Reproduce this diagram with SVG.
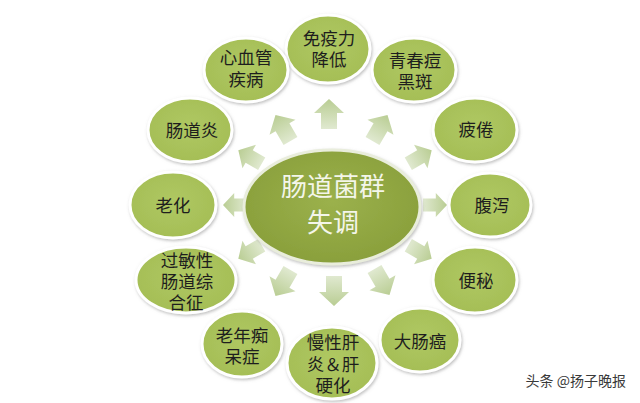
<svg xmlns="http://www.w3.org/2000/svg" width="640" height="403" viewBox="0 0 640 403">
<style>
.node{fill:url(#ng);stroke:#ffffff;stroke-width:3;filter:url(#sh)}
.t{font-family:"Noto Sans CJK SC","Noto Sans",sans-serif;font-size:17.5px;fill:#1e1e1e;text-anchor:middle}
.ct{font-family:"Noto Sans CJK SC","Noto Sans",sans-serif;font-size:26px;fill:#f4f6ea;text-anchor:middle}
.wm{font-family:"Noto Sans CJK SC","Noto Sans",sans-serif;font-size:14px;fill:#3a3a3a;stroke:#ffffff;stroke-width:0.6;paint-order:stroke;text-anchor:end}
.arr{fill:url(#ag)}
</style>
<defs>
<filter id="sh" x="-20%" y="-20%" width="140%" height="140%">
<feDropShadow dx="1" dy="1.5" stdDeviation="1.5" flood-color="#8a8a8a" flood-opacity="0.55"/>
</filter>
<radialGradient id="ng" cx="50%" cy="45%" r="60%">
<stop offset="0" stop-color="#afc862"/>
<stop offset="1" stop-color="#a4bd55"/>
</radialGradient>
<radialGradient id="cg" cx="50%" cy="45%" r="60%">
<stop offset="0" stop-color="#9bb14c"/>
<stop offset="1" stop-color="#889e3a"/>
</radialGradient>
<linearGradient id="ag" x1="0" y1="0" x2="1" y2="0">
<stop offset="0" stop-color="#e0e9d0"/>
<stop offset="1" stop-color="#b9cd93"/>
</linearGradient>
<path id="arrow" class="arr" d="M-15,-8 L1,-8 L1,-15 L15,0 L1,15 L1,8 L-15,8 Z"/>
</defs>
<rect width="640" height="403" fill="#ffffff"/>
<g id="connectors">
<use href="#arrow" transform="translate(329,114) rotate(-90)"/>
<use href="#arrow" transform="translate(380,128) rotate(-60)"/>
<use href="#arrow" transform="translate(420,157) rotate(-30) scale(0.9)"/>
<use href="#arrow" transform="translate(435,205) scale(0.8)"/>
<use href="#arrow" transform="translate(420,252) rotate(30) scale(0.9)"/>
<use href="#arrow" transform="translate(382,282) rotate(60)"/>
<use href="#arrow" transform="translate(334,291) rotate(90)"/>
<use href="#arrow" transform="translate(283,283) rotate(120)"/>
<use href="#arrow" transform="translate(250,252) rotate(150) scale(0.9)"/>
<use href="#arrow" transform="translate(235,205) rotate(180) scale(0.8)"/>
<use href="#arrow" transform="translate(250,157) rotate(-150) scale(0.9)"/>
<use href="#arrow" transform="translate(283,128) rotate(-120)"/>
</g>
<g id="center">
<ellipse cx="332" cy="207" rx="88" ry="57" fill="url(#cg)" stroke="#e9eddc" stroke-width="3" filter="url(#sh)"/>
<text class="ct" x="333" y="196">肠道菌群<tspan x="333" dy="36">失调</tspan></text>
</g>
<g id="n-immune">
<ellipse class="node" cx="328" cy="49" rx="42" ry="34"/>
<text class="t" x="329" y="45">免疫力<tspan x="329" dy="21">降低</tspan></text>
</g>
<g id="n-cardio">
<ellipse class="node" cx="246" cy="70" rx="42" ry="32"/>
<text class="t" x="246" y="64">心血管<tspan x="246" dy="22">疾病</tspan></text>
</g>
<g id="n-acne">
<ellipse class="node" cx="414" cy="70" rx="42" ry="32"/>
<text class="t" x="415" y="67">青春痘<tspan x="415" dy="21">黑斑</tspan></text>
</g>
<g id="n-enteritis">
<ellipse class="node" cx="190" cy="130" rx="42" ry="32"/>
<text class="t" x="192" y="137">肠道炎</text>
</g>
<g id="n-fatigue">
<ellipse class="node" cx="475" cy="130" rx="42" ry="32"/>
<text class="t" x="476" y="136">疲倦</text>
</g>
<g id="n-aging">
<ellipse class="node" cx="173" cy="205" rx="43" ry="33"/>
<text class="t" x="173" y="212">老化</text>
</g>
<g id="n-diarrhea">
<ellipse class="node" cx="490" cy="205" rx="41" ry="32"/>
<text class="t" x="492" y="212">腹泻</text>
</g>
<g id="n-ibs">
<ellipse class="node" cx="186" cy="280" rx="50" ry="33"/>
<text class="t" x="187" y="267">过敏性<tspan x="187" dy="21">肠道综</tspan><tspan x="186" dy="21">合征</tspan></text>
</g>
<g id="n-constipation">
<ellipse class="node" cx="475" cy="280" rx="42" ry="33"/>
<text class="t" x="476" y="287">便秘</text>
</g>
<g id="n-dementia">
<ellipse class="node" cx="242" cy="344" rx="40" ry="33"/>
<text class="t" x="242" y="342">老年痴<tspan x="242" dy="21">呆症</tspan></text>
</g>
<g id="n-liver">
<ellipse class="node" cx="332" cy="363" rx="45" ry="36"/>
<text class="t" x="333" y="349">慢性肝<tspan x="333" dy="22">炎＆肝</tspan><tspan x="333" dy="21">硬化</tspan></text>
</g>
<g id="n-cancer">
<ellipse class="node" cx="420" cy="340" rx="40" ry="32"/>
<text class="t" x="420" y="348">大肠癌</text>
</g>
<text class="wm" x="626" y="386">头条 @扬子晚报</text>
</svg>
